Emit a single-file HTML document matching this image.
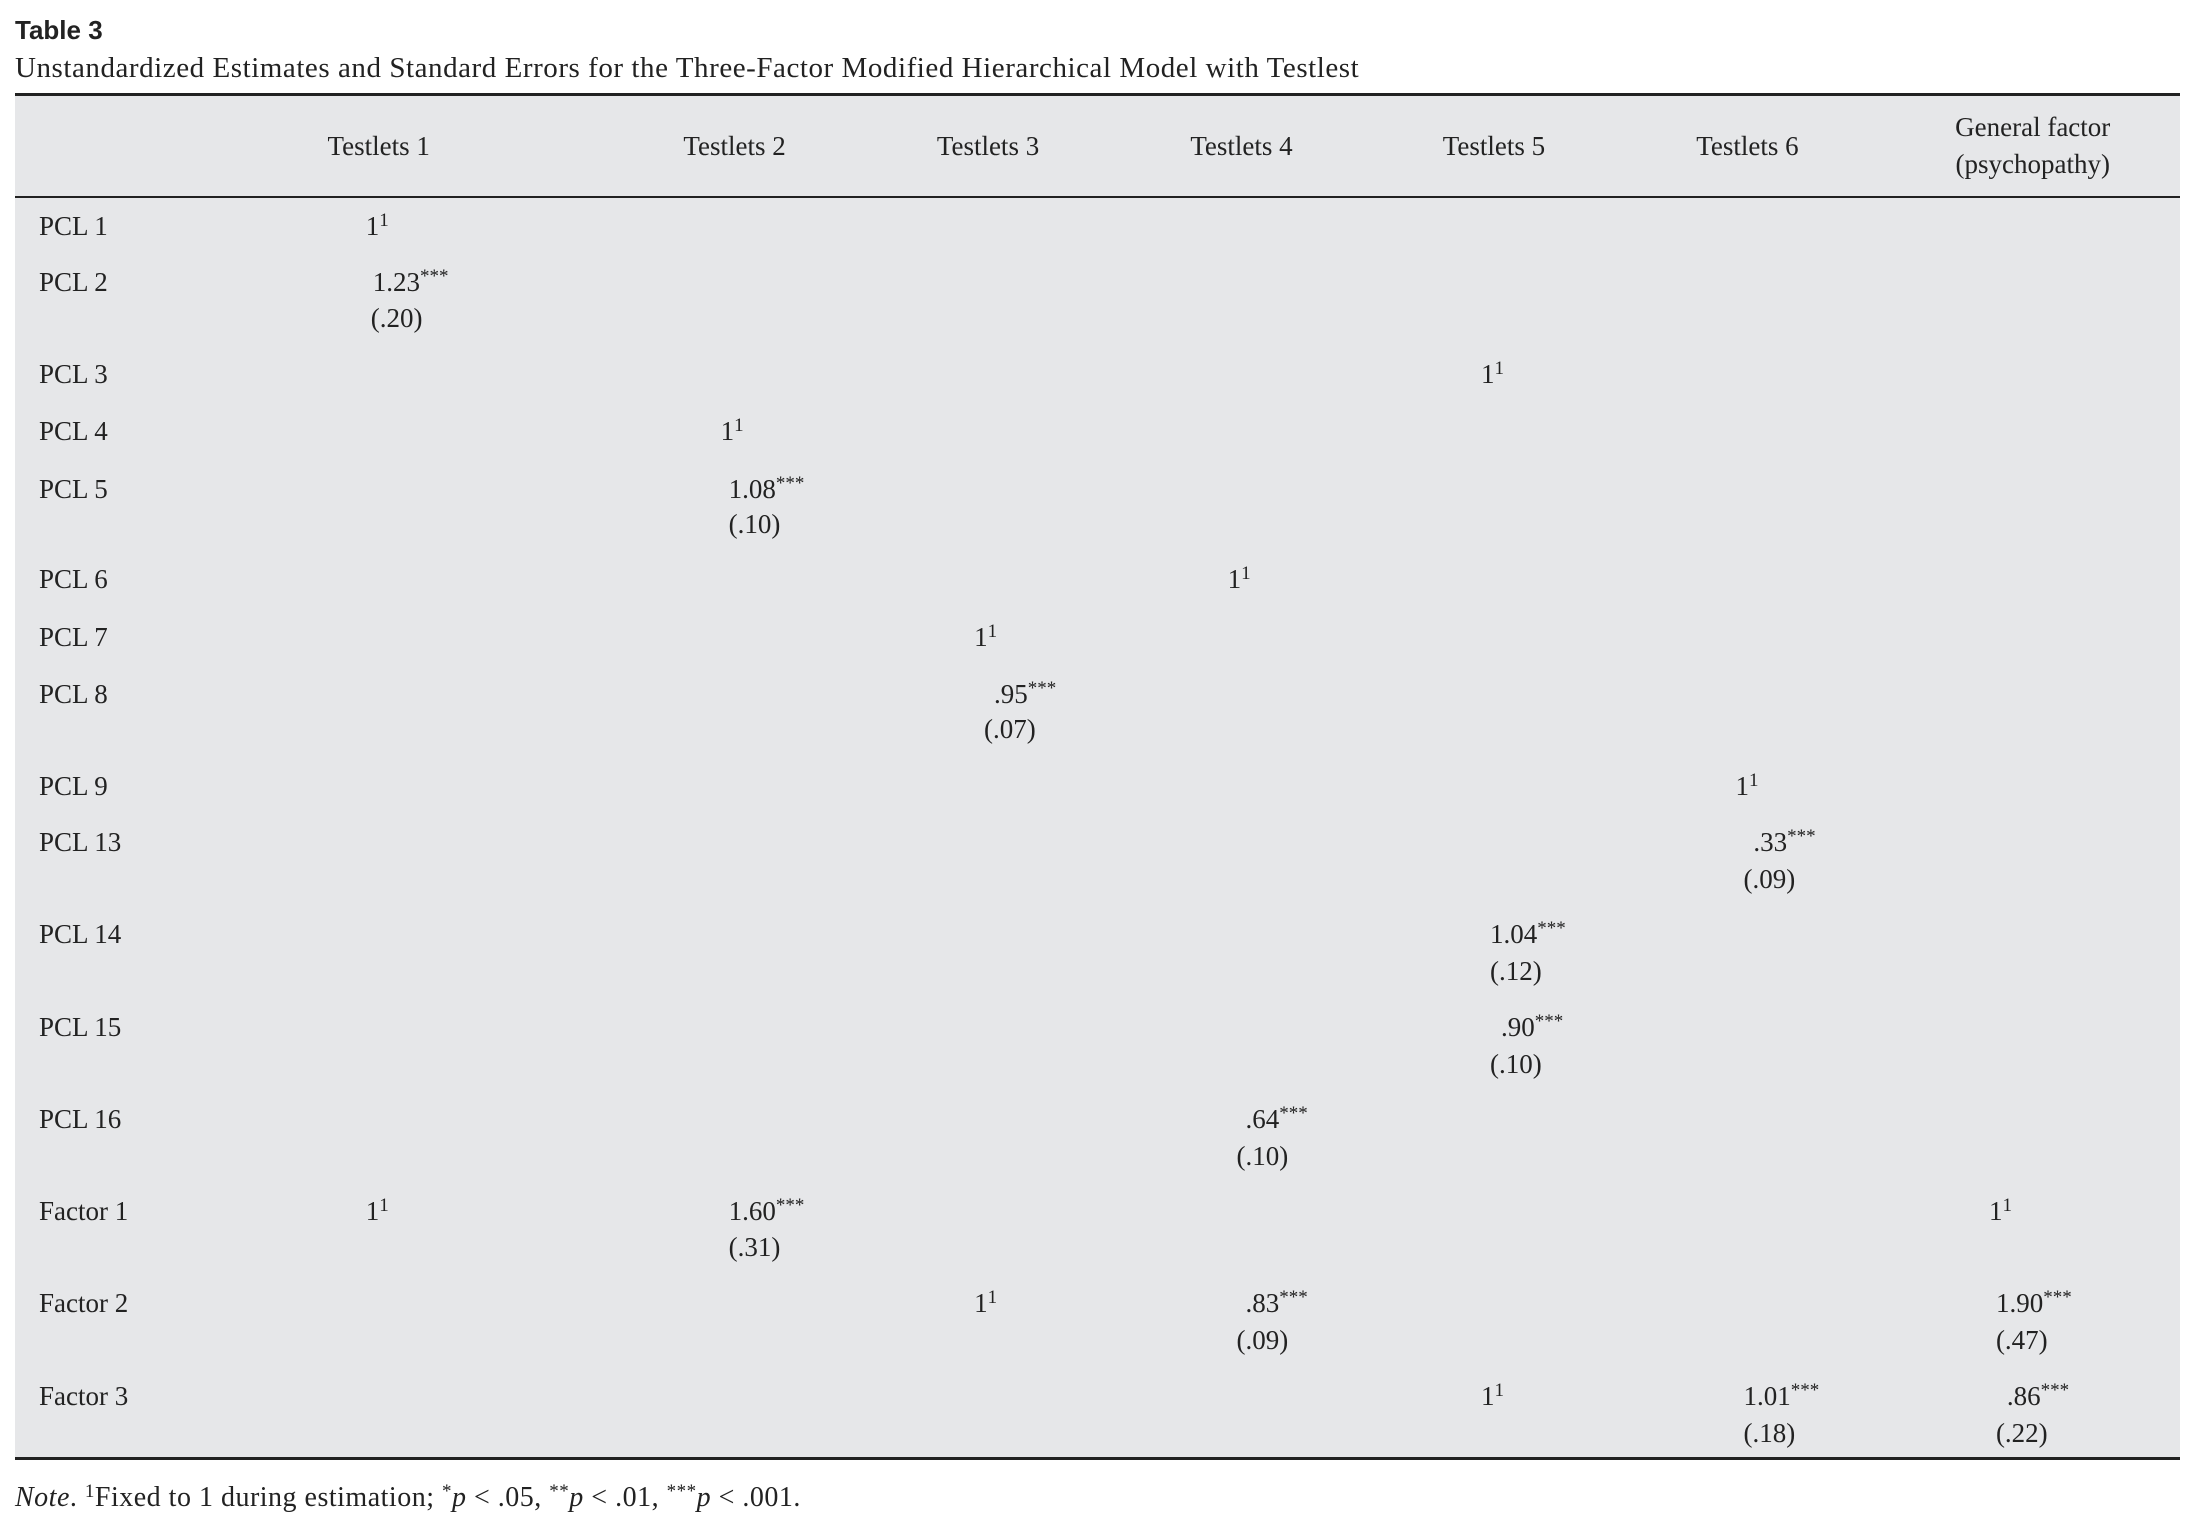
<!DOCTYPE html>
<html><head><meta charset="utf-8"><style>
body{margin:0;width:2200px;height:1533px;background:#fff;position:relative;overflow:hidden;font-family:"Liberation Serif",serif;color:#222}
.t{position:absolute;font-size:27px;line-height:36px;white-space:nowrap}
.c{transform:translateX(-50%)}
sup{font-size:19px;vertical-align:0;position:relative;top:-9px}
</style></head><body>
<div class="t" style="left:15px;top:12px;font-weight:bold;font-family:'Liberation Sans',sans-serif;font-size:26px">Table 3</div>
<div class="t" style="left:15px;top:50px;font-size:29px;letter-spacing:0.55px">Unstandardized Estimates and Standard Errors for the Three-Factor Modified Hierarchical Model with Testlest</div>
<div style="position:absolute;left:15px;top:94px;width:2165px;height:1365px;background:#e6e7e9"></div>
<div style="position:absolute;left:15px;top:93px;width:2165px;height:3px;background:#222"></div>
<div style="position:absolute;left:15px;top:196px;width:2165px;height:2px;background:#222"></div>
<div style="position:absolute;left:15px;top:1457px;width:2165px;height:3px;background:#222"></div>
<div id="cells"></div>
<div class="t" style="left:15px;top:1480px;font-size:28px;letter-spacing:0.5px"><i>Note</i>. <sup>1</sup>Fixed to 1 during estimation; <sup>*</sup><i>p</i> &lt; .05, <sup>**</sup><i>p</i> &lt; .01, <sup>***</sup><i>p</i> &lt; .001.</div>
<script>
const headers=[["Testlets 1",381,147],["Testlets 2",739,147],["Testlets 3",994,147],["Testlets 4",1249,147],["Testlets 5",1503,147],["Testlets 6",1758,147],["General factor",2045,128],["(psychopathy)",2045,165]];
const rows=[["PCL 1",227],["PCL 2",283],["PCL 3",376],["PCL 4",433],["PCL 5",491],["PCL 6",582],["PCL 7",640],["PCL 8",697],["PCL 9",790],["PCL 13",846],["PCL 14",939],["PCL 15",1032],["PCL 16",1125],["Factor 1",1217],["Factor 2",1310],["Factor 3",1403]];
const cells=[
[368,227,"1<sup>1</sup>"],[375,283,"1.23<sup>***</sup>"],[373,320,"(.20)"],
[1490,376,"1<sup>1</sup>"],[725,433,"1<sup>1</sup>"],[733,491,"1.08<sup>***</sup>"],[733,527,"(.10)"],
[1235,582,"1<sup>1</sup>"],[980,640,"1<sup>1</sup>"],[1000,697,".95<sup>***</sup>"],[990,733,"(.07)"],
[1746,790,"1<sup>1</sup>"],[1764,846,".33<sup>***</sup>"],[1754,883,"(.09)"],
[1499,939,"1.04<sup>***</sup>"],[1499,976,"(.12)"],[1510,1032,".90<sup>***</sup>"],[1499,1069,"(.10)"],
[1253,1125,".64<sup>***</sup>"],[1244,1162,"(.10)"],
[368,1217,"1<sup>1</sup>"],[733,1217,"1.60<sup>***</sup>"],[733,1253,"(.31)"],[2001,1217,"1<sup>1</sup>"],
[980,1310,"1<sup>1</sup>"],[1253,1310,".83<sup>***</sup>"],[1244,1347,"(.09)"],[2008,1310,"1.90<sup>***</sup>"],[2008,1347,"(.47)"],
[1490,1403,"1<sup>1</sup>"],[1754,1403,"1.01<sup>***</sup>"],[1754,1440,"(.18)"],[2019,1403,".86<sup>***</sup>"],[2008,1440,"(.22)"]];
const box=document.getElementById('cells');
const X=x=>x*0.994, Y=y=>y*0.995-18;
headers.forEach(h=>{const d=document.createElement('div');d.className='t c';d.style.left=X(h[1])+'px';d.style.top=Y(h[2])+'px';d.textContent=h[0];


box.appendChild(d);});
rows.forEach(r=>{const d=document.createElement('div');d.className='t';d.style.left='39px';d.style.top=Y(r[1])+'px';d.textContent=r[0];


box.appendChild(d);});
cells.forEach(c=>{const d=document.createElement('div');d.className='t';d.style.left=X(c[0])+'px';d.style.top=Y(c[1])+'px';d.innerHTML=c[2];


box.appendChild(d);});
</script>
</body></html>
